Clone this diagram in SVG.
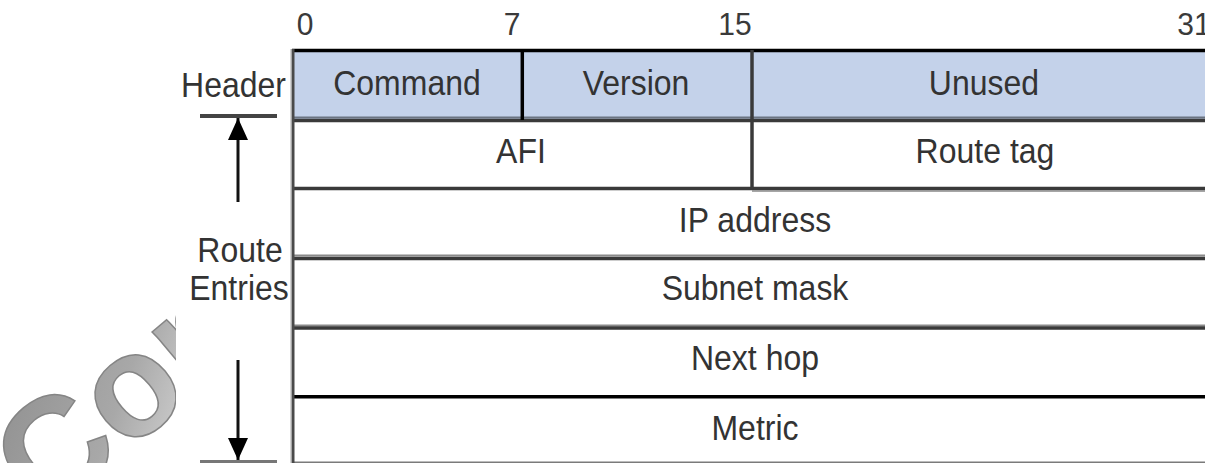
<svg xmlns="http://www.w3.org/2000/svg" width="1205" height="463" viewBox="0 0 1205 463">
  <style>
    .lbl { font-family: "Liberation Sans", Arial, sans-serif; font-size: 32px; fill: #333333; }
    .num { font-family: "Liberation Sans", Arial, sans-serif; font-size: 30px; fill: #3a3a3a; text-anchor: middle; }
    .mid { text-anchor: middle; }
    .end { text-anchor: end; }
    .hdr { fill: #c4d2ea; }
    .row { stroke: #3a3a3a; stroke-width: 3.5; fill: none; }
    .blk { stroke: #000000; stroke-width: 3.5; fill: none; }
    .arrow { stroke: #111111; stroke-width: 3; fill: none; }
    .bar { stroke: #444444; stroke-width: 4; }
  </style>
  <defs>
    <linearGradient id="wmg" x1="0" y1="0" x2="1" y2="1">
      <stop offset="0" stop-color="#8c8c8c"/>
      <stop offset="0.5" stop-color="#a8a8a8"/>
      <stop offset="1" stop-color="#f0f0f0"/>
    </linearGradient>
    <clipPath id="wmclip">
      <rect x="0" y="0" width="176" height="463"/>
    </clipPath>
    <marker id="ah" viewBox="0 0 10 10" refX="10" refY="5" markerWidth="22" markerHeight="20" orient="auto" markerUnits="userSpaceOnUse" preserveAspectRatio="none">
      <path d="M0,0 L10,5 L0,10 Z" fill="#000"/>
    </marker>
  </defs>
  <rect x="0" y="0" width="1205" height="463" fill="#ffffff"/>

  <!-- watermark -->
  <g id="watermark" clip-path="url(#wmclip)">
    <text transform="translate(46,521) rotate(-40)" font-family="'Liberation Sans', Arial, sans-serif" font-weight="bold" font-size="145" fill="url(#wmg)" stroke="#858585" stroke-width="1.5">Con</text>
  </g>

  <!-- bit numbers -->
  <g id="bits">
    <text class="num" transform="translate(305,35) scale(1,1.05)">0</text>
    <text class="num" transform="translate(512,35) scale(1,1.05)">7</text>
    <text class="num" transform="translate(735,35) scale(1,1.05)">15</text>
    <text class="num" transform="translate(1194,35) scale(1,1.05)">31</text>
  </g>

  <!-- header fields -->
  <g id="command">
    <rect class="hdr" x="293" y="50" width="229" height="70"/>
    <text class="lbl mid" transform="translate(407,95) scale(1,1.12)">Command</text>
  </g>
  <g id="version">
    <rect class="hdr" x="522" y="50" width="230" height="70"/>
    <text class="lbl mid" transform="translate(636,95) scale(1,1.12)">Version</text>
  </g>
  <g id="unused">
    <rect class="hdr" x="752" y="50" width="460" height="70"/>
    <text class="lbl mid" transform="translate(984,95) scale(1,1.12)">Unused</text>
  </g>

  <!-- route entry fields -->
  <g id="afi">
    <text class="lbl mid" transform="translate(521,163) scale(1,1.12)">AFI</text>
  </g>
  <g id="routetag">
    <text class="lbl mid" transform="translate(985,163) scale(1,1.12)">Route tag</text>
  </g>
  <g id="ipaddress">
    <text class="lbl mid" transform="translate(755,232) scale(1,1.12)">IP address</text>
  </g>
  <g id="subnetmask">
    <text class="lbl mid" transform="translate(755,300) scale(1,1.12)">Subnet mask</text>
  </g>
  <g id="nexthop">
    <text class="lbl mid" transform="translate(755,370) scale(1,1.12)">Next hop</text>
  </g>
  <g id="metric">
    <text class="lbl mid" transform="translate(755,440) scale(1,1.12)">Metric</text>
  </g>

  <!-- table grid lines -->
  <g id="grid">
    <line class="blk" x1="292" y1="50.5" x2="1205" y2="50.5"/>
    <line x1="293" y1="117.5" x2="1205" y2="117.5" stroke="#6b7482" stroke-width="2"/>
    <line class="row" x1="293" y1="120.5" x2="1205" y2="120.5"/>
    <line class="row" x1="293" y1="188.5" x2="1205" y2="188.5"/>
    <line x1="752" y1="191" x2="1205" y2="191" stroke="#888" stroke-width="1.5"/>
    <line x1="293" y1="255.5" x2="1205" y2="255.5" stroke="#8a8a8a" stroke-width="2"/>
    <line class="row" x1="293" y1="258.5" x2="1205" y2="258.5"/>
    <line x1="293" y1="325.5" x2="1205" y2="325.5" stroke="#8a8a8a" stroke-width="2"/>
    <line class="row" x1="293" y1="328" x2="1205" y2="328"/>
    <line class="blk" x1="293" y1="396.8" x2="1205" y2="396.8"/>
    <line x1="293" y1="462.3" x2="1205" y2="462.3" stroke="#7a7a7a" stroke-width="1.5"/>
    <line x1="293" y1="49" x2="293" y2="463" stroke="#4a4a4a" stroke-width="3"/>
    <line x1="291" y1="49" x2="291" y2="463" stroke="#aaaaaa" stroke-width="1"/>
    <line class="blk" x1="522.3" y1="50" x2="522.3" y2="120"/>
    <line class="row" x1="752" y1="50" x2="752" y2="190"/>
  </g>

  <!-- side labels -->
  <g id="header-label">
    <text class="lbl end" transform="translate(286,97) scale(1,1.12)">Header</text>
  </g>
  <g id="route-entries-label">
    <text class="lbl mid" transform="translate(240,262) scale(1,1.12)">Route</text>
    <text class="lbl mid" transform="translate(239,300) scale(1,1.12)">Entries</text>
  </g>

  <!-- connectors -->
  <g id="connectors">
    <line class="bar" x1="200" y1="116" x2="277" y2="116"/>
    <line class="arrow" x1="238" y1="202" x2="238" y2="118" marker-end="url(#ah)"/>
    <line x1="200" y1="461.5" x2="277" y2="461.5" stroke="#777" stroke-width="3"/>
    <line class="arrow" x1="238" y1="360" x2="238" y2="460" marker-end="url(#ah)"/>
  </g>
</svg>
